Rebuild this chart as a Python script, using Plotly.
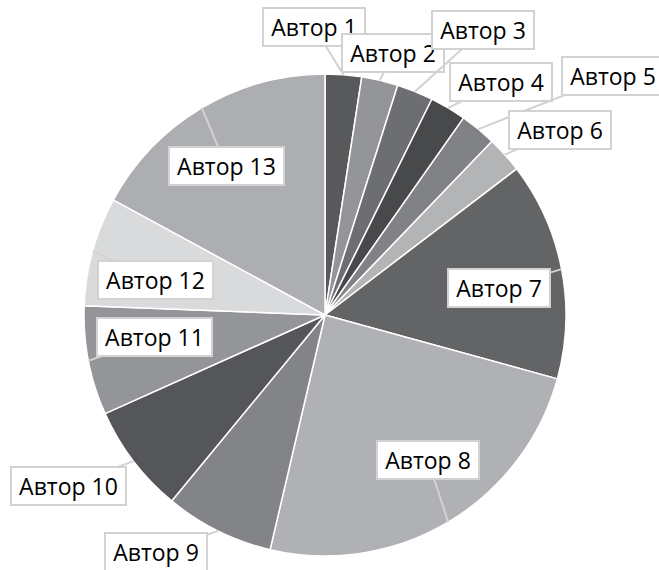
import math
import plotly.graph_objects as go

labels = ["Автор 1", "Автор 2", "Автор 3", "Автор 4", "Автор 5", "Автор 6", "Автор 7",
          "Автор 8", "Автор 9", "Автор 10", "Автор 11", "Автор 12", "Автор 13"]
values = [1, 1, 1, 1, 1, 1, 6, 10, 3, 3, 3, 3, 7]
colors = ["#58595b", "#939598", "#6d6e71", "#48494b", "#808285", "#b3b4b6", "#636466",
          "#b0b1b4", "#838487", "#55565a", "#939598", "#d9dadb", "#adaeb1"]

# callout box centers (pixels) - layout only
box_centers = [(314, 27), (393, 53), (483, 30), (501, 82), (613, 76), (560, 130), (499, 288),
               (428, 460), (156, 552), (68, 486), (154, 337), (155, 280), (226, 166)]

W_PX, H_PX = 659, 570
L, R, T, B = 84, 93, 74, 14
PW = W_PX - L - R
PH = H_PX - T - B

fig = go.Figure(go.Pie(
    labels=labels, values=values, sort=False, direction="clockwise", rotation=0,
    marker=dict(colors=colors, line=dict(color="white", width=1.5)),
    textinfo="none", hoverinfo="none", showlegend=False, domain=dict(x=[0, 1], y=[0, 1]),
))

total = sum(values)
cum = 0
annotations = []
for lab, v, (bx, by) in zip(labels, values, box_centers):
    theta = 2 * math.pi * (cum + v / 2) / total
    cum += v
    xp = 0.5 + 0.5 * math.sin(theta)
    yp = 0.5 + 0.5 * math.cos(theta)
    px = L + xp * PW
    py = T + (1 - yp) * PH
    w = 113 if len(lab) > 7 else 100
    annotations.append(dict(
        x=xp, y=yp, xref="paper", yref="paper", text=lab,
        showarrow=True, arrowhead=0, arrowwidth=2, arrowcolor="#d2d2d2",
        ax=bx - px, ay=by - py, standoff=0, startstandoff=0,
        bgcolor="white", bordercolor="#d2d2d2", borderwidth=2, borderpad=0,
        width=w, height=36,
        font=dict(family="Open Sans", size=23, color="#000000"),
    ))

fig.update_layout(
    width=W_PX, height=H_PX,
    margin=dict(l=L, r=R, t=T, b=B),
    paper_bgcolor="white", plot_bgcolor="white",
    annotations=annotations,
)
fig.write_html("out.html", config={"displayModeBar": False},
               post_script="document.body.style.margin='0';document.body.style.overflow='hidden';")
